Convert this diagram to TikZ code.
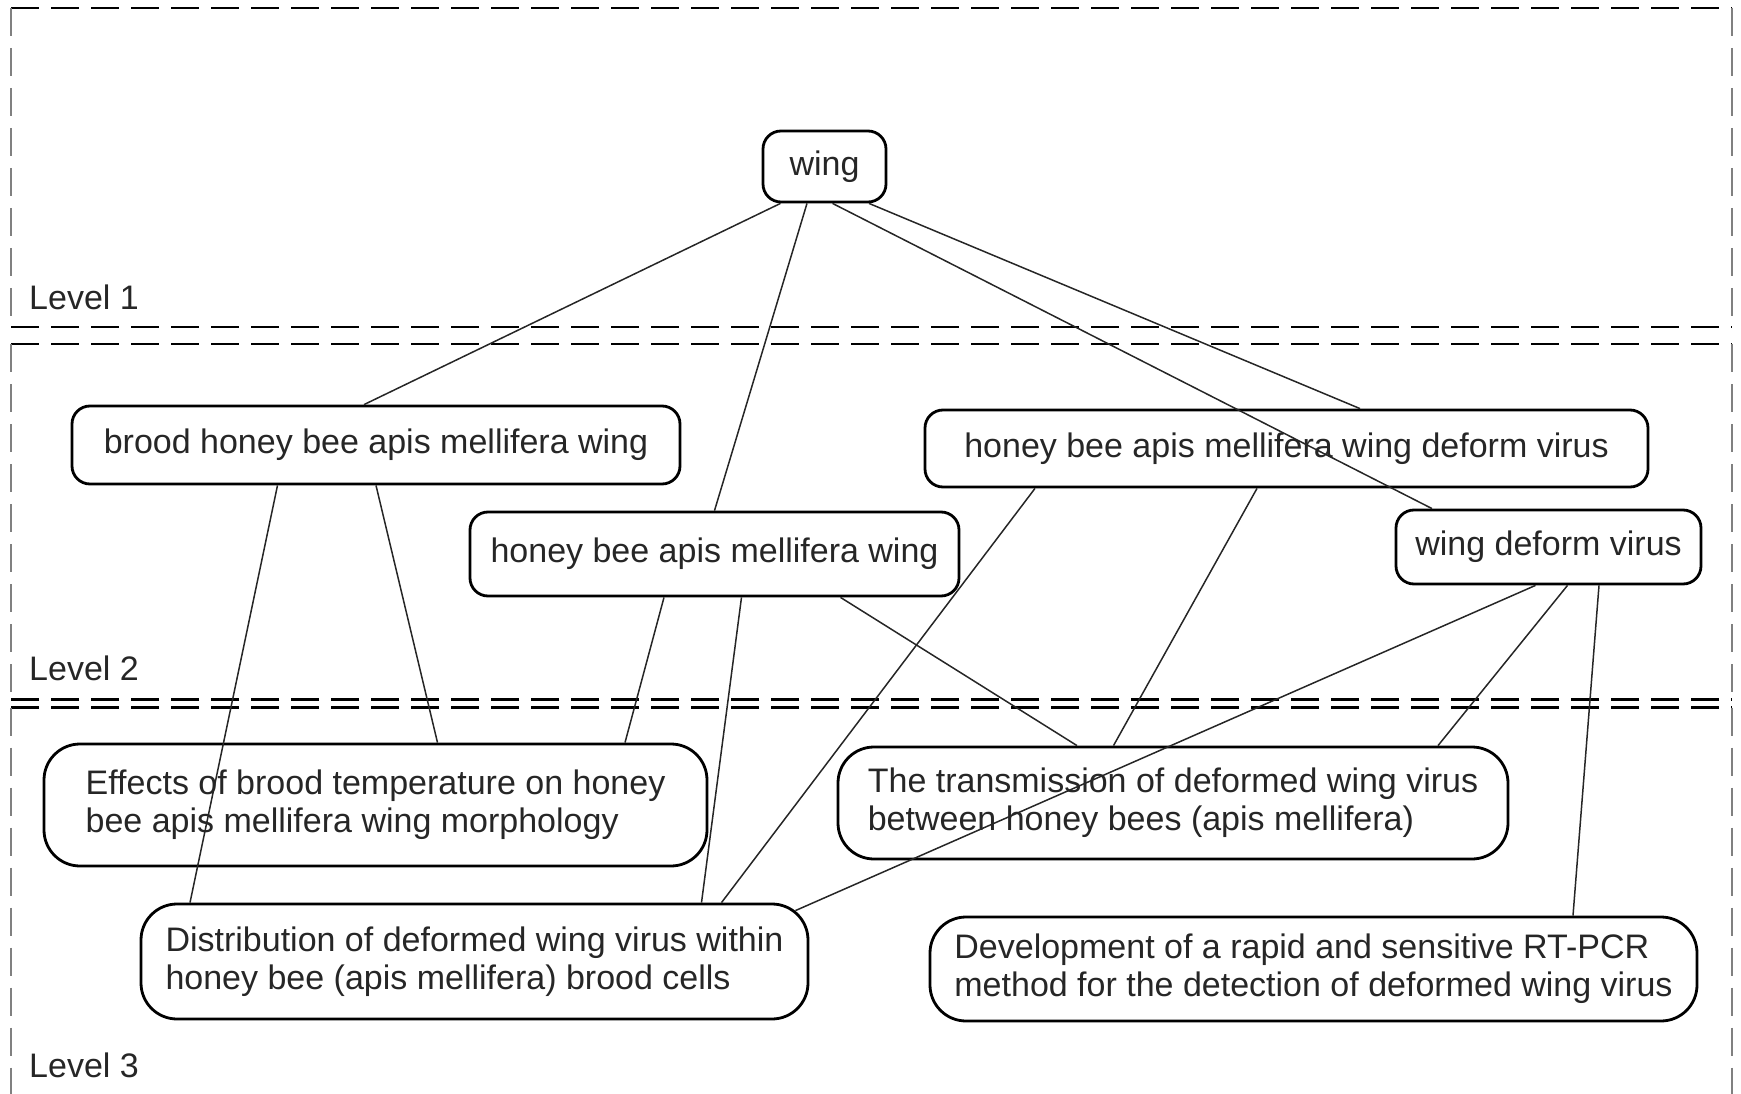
\documentclass[tikz,border=0pt]{standalone}
\usepackage{fontspec}
\setmainfont{Liberation Sans}
\newcommand\boxfont{\fontsize{34}{38}\selectfont}
\tikzset{
  box/.style={draw, line width=2.8pt, rounded corners=18pt, inner sep=0pt, text=black!85, font=\boxfont},
  bigbox/.style={box, rounded corners=36pt, align=left},
  link/.style={line width=1.5pt, draw=black!85},
  levelh/.style={line width=2.6pt, dash pattern=on 28pt off 12pt},
  levelv/.style={levelh, draw=black!50},
  lvl/.style={anchor=base west, inner sep=0pt, text=black!85, font=\boxfont}
}
\begin{document}
\begin{tikzpicture}[x=1pt, y=-1pt]
  \useasboundingbox (0, 0) rectangle (1741, 1094);

  \draw [levelh] (11, 8) -- (1732, 8);
  \draw [levelh] (11, 327) -- (1732, 327);
  \draw [levelv] (11, 8) -- (11, 327);
  \draw [levelv] (1732, 8) -- (1732, 327);
  \node [lvl] (l1) at (29, 309) {Level 1};

  \draw [levelh] (11, 344) -- (1732, 344);
  \draw [levelh] (11, 699.5) -- (1732, 699.5);
  \draw [levelv] (11, 344) -- (11, 699.5);
  \draw [levelv] (1732, 344) -- (1732, 699.5);
  \node [lvl] (l2) at (29, 680) {Level 2};

  \draw [levelh] (11, 707.5) -- (1732, 707.5);
  \draw [levelv] (11, 707.5) -- (11, 1100);
  \draw [levelv] (1732, 707.5) -- (1732, 1100);
  \node [lvl] (l3) at (29, 1077) {Level 3};

  \node [box, minimum width=123pt, minimum height=71pt] (wing) at (824.5, 166.5) {wing};

  \node [box, minimum width=608pt, minimum height=78pt] (brood) at (376, 445) {brood honey bee apis mellifera wing};
  \node [box, minimum width=489pt, minimum height=84pt] (hbw) at (714.5, 554) {honey bee apis mellifera wing};
  \node [box, minimum width=723pt, minimum height=77pt] (hbwdv) at (1286.5, 448.5) {honey bee apis mellifera wing deform virus};
  \node [box, minimum width=305pt, minimum height=74pt] (wdv) at (1548.5, 547) {wing deform virus};

  \node [bigbox, minimum width=663pt, minimum height=122pt] (eff) at (375.5, 805) {Effects of brood temperature on honey\\bee apis mellifera wing morphology};
  \node [bigbox, minimum width=670pt, minimum height=112pt] (trans) at (1173, 803) {The transmission of deformed wing virus\\between honey bees (apis mellifera)};
  \node [bigbox, minimum width=667pt, minimum height=115pt] (dist) at (474.5, 961.5) {Distribution of deformed wing virus within\\honey bee (apis mellifera) brood cells};
  \node [bigbox, minimum width=767pt, minimum height=104pt] (dev) at (1313.5, 969) {Development of a rapid and sensitive RT-PCR\\method for the detection of deformed wing virus};

  \draw [link] ([xshift=-44pt]wing.south) to ([xshift=-12pt]brood.north);
  \draw [link] ([xshift=-17.5pt]wing.south) to (hbw.north);
  \draw [link] ([xshift=8pt]wing.south) to ([xshift=-116.5pt]wdv.north);
  \draw [link] ([xshift=44.5pt]wing.south) to ([xshift=73.5pt]hbwdv.north);

  \draw [link] ([xshift=-98.5pt]brood.south) to ([xshift=-284.5pt]dist.north);
  \draw [link] (brood.south) to ([xshift=62pt]eff.north);
  \draw [link] ([xshift=-50.5pt]hbw.south) to ([xshift=249.5pt]eff.north);
  \draw [link] ([xshift=27pt]hbw.south) to ([xshift=227pt]dist.north);
  \draw [link] ([xshift=126pt]hbw.south) to ([xshift=-96pt]trans.north);
  \draw [link] ([xshift=-251.5pt]hbwdv.south) to ([xshift=247pt]dist.north);
  \draw [link] ([xshift=-29.5pt]hbwdv.south) to ([xshift=-59.5pt]trans.north);
  \draw [link] ([xshift=-13pt]wdv.south) to ([xshift=-14pt, yshift=-8pt]dist.north east);
  \draw [link] ([xshift=19pt]wdv.south) to ([xshift=265pt]trans.north);
  \draw [link] ([xshift=50.5pt]wdv.south) to ([xshift=259.5pt]dev.north);
\end{tikzpicture}
\end{document}
